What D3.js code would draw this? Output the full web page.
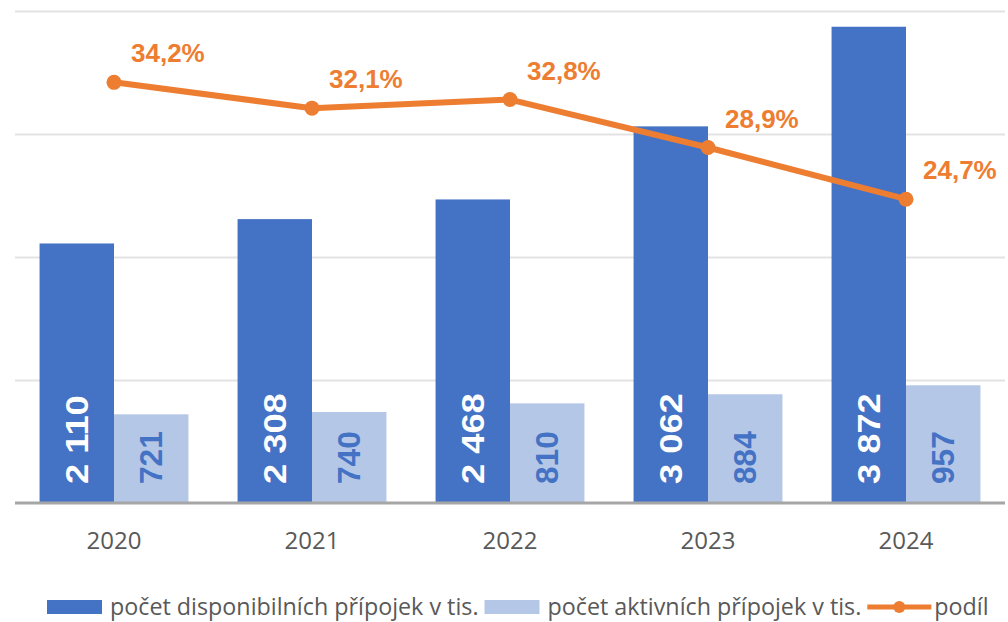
<!DOCTYPE html>
<html lang="cs">
  <head>
    <script src="https://d3js.org/d3.v7.min.js"></script>
    <meta charset="UTF-8" />
    <title>Přípojky</title>
    <style>
      body { margin: 0; background: #fff; }
    </style>
  </head>
  <body>
    <svg width="1008" height="622"></svg>
    <script>
      // data
      var years = ["2020", "2021", "2022", "2023", "2024"];
      var disponibilni = [2110, 2308, 2468, 3062, 3872];
      var aktivni = [721, 740, 810, 884, 957];
      var podil = [0.342, 0.321, 0.328, 0.289, 0.247];
      var seriesNames = [
        "počet disponibilních přípojek v tis.",
        "počet aktivních přípojek v tis.",
        "podíl",
      ];
      var yTicks = [1000, 2000, 3000, 4000];

      var blue = "#4472C4";
      var lightBlue = "#B4C7E7";
      var orange = "#ED7D31";
      var gray = "#595959";

      var svg = d3.select("svg");
      var plotLeft = 15, plotRight = 1005, plotTop = 11, plotBottom = 503;

      var x = d3.scaleBand().domain(years).range([plotLeft, plotRight]);
      var xIn = d3
        .scaleBand()
        .domain(["d", "a"])
        .range([0, x.bandwidth()])
        .paddingOuter(0.33);
      var y = d3.scaleLinear().domain([0, 4000]).range([plotBottom, plotTop]);
      var y2 = d3.scaleLinear().domain([0, 0.4]).range([plotBottom, plotTop]);

      // gridlines
      var grid = svg
        .append("g")
        .attr("transform", "translate(" + plotLeft + ",0)")
        .call(
          d3
            .axisLeft(y)
            .tickValues(yTicks)
            .tickSize(-(plotRight - plotLeft))
            .tickFormat("")
        );
      grid.select(".domain").remove();
      grid.selectAll("line").attr("stroke", "#E3E3E3").attr("stroke-width", 2);

      var rows = years.map(function (yr, i) {
        return { year: yr, d: disponibilni[i], a: aktivni[i], p: podil[i] };
      });

      // bars
      var g = svg.append("g");
      g.selectAll(".bar-d")
        .data(rows)
        .enter()
        .append("rect")
        .attr("x", function (r) { return x(r.year) + xIn("d"); })
        .attr("y", function (r) { return y(r.d); })
        .attr("width", xIn.bandwidth())
        .attr("height", function (r) { return y(0) - y(r.d); })
        .attr("fill", blue);
      g.selectAll(".bar-a")
        .data(rows)
        .enter()
        .append("rect")
        .attr("x", function (r) { return x(r.year) + xIn("a"); })
        .attr("y", function (r) { return y(r.a); })
        .attr("width", xIn.bandwidth())
        .attr("height", function (r) { return y(0) - y(r.a); })
        .attr("fill", lightBlue);

      var fmt = function (v) {
        return d3.format(",")(v).replace(",", "\u00a0");
      };

      // bar labels, rotated, at the base of the bars
      function barLabel(key, color, stretch) {
        g.selectAll(".lab-" + key)
          .data(rows)
          .enter()
          .append("text")
          .attr("transform", function (r) {
            var cx = x(r.year) + xIn(key) + xIn.bandwidth() / 2;
            return "translate(" + cx + "," + (y(0) - 19) + ") rotate(-90) scale(" + stretch + ",1)";
          })
          .attr("dy", "0.36em")
          .attr("font-family", "Liberation Sans, Arial, sans-serif")
          .attr("font-weight", "bold")
          .attr("font-size", 31)
          .attr("fill", color)
          .text(function (r) { return fmt(r[key]); });
      }
      barLabel("d", "#fff", 1.17);
      barLabel("a", blue, 1.02);

      // baseline
      svg
        .append("line")
        .attr("x1", plotLeft)
        .attr("x2", plotRight)
        .attr("y1", y(0))
        .attr("y2", y(0))
        .attr("stroke", "#A6A6A6")
        .attr("stroke-width", 3);

      // x axis labels
      var xa = svg
        .append("g")
        .attr("transform", "translate(0," + y(0) + ")")
        .call(d3.axisBottom(x).tickSize(0).tickPadding(29));
      xa.select(".domain").remove();
      xa.selectAll("text")
        .attr("font-family", "Open Sans, sans-serif")
        .attr("font-size", 24)
        .attr("fill", gray);

      // share line
      var cx = function (r) { return x(r.year) + x.bandwidth() / 2; };
      var line = d3
        .line()
        .x(cx)
        .y(function (r) { return y2(r.p); });
      svg
        .append("path")
        .datum(rows)
        .attr("d", line)
        .attr("fill", "none")
        .attr("stroke", orange)
        .attr("stroke-width", 6)
        .attr("stroke-linejoin", "round");
      svg
        .selectAll(".dot")
        .data(rows)
        .enter()
        .append("circle")
        .attr("cx", cx)
        .attr("cy", function (r) { return y2(r.p); })
        .attr("r", 7.5)
        .attr("fill", orange);
      svg
        .selectAll(".plab")
        .data(rows)
        .enter()
        .append("text")
        .attr("x", function (r) { return cx(r) + 17; })
        .attr("y", function (r) { return y2(r.p) - 20; })
        .attr("font-family", "Liberation Sans, Arial, sans-serif")
        .attr("font-weight", "bold")
        .attr("font-size", 26)
        .attr("fill", orange)
        .text(function (r) { return d3.format(".1f")(r.p * 100).replace(".", ",") + "%"; });

      // legend
      var leg = svg.append("g").attr("transform", "translate(0,607)");
      var lx = 47;
      seriesNames.forEach(function (name, i) {
        if (i < 2) {
          leg.append("rect")
            .attr("x", lx)
            .attr("y", -7)
            .attr("width", 55)
            .attr("height", 14)
            .attr("fill", i == 0 ? blue : lightBlue);
          lx += 63;
        } else {
          leg.append("line")
            .attr("x1", lx)
            .attr("x2", lx + 64)
            .attr("stroke", orange)
            .attr("stroke-width", 5);
          leg.append("circle").attr("cx", lx + 32).attr("r", 6).attr("fill", orange);
          lx += 67;
        }
        var t = leg
          .append("text")
          .attr("x", lx)
          .attr("dy", "0.36em")
          .attr("font-family", "Open Sans, sans-serif")
          .attr("font-size", 23.3)
          .attr("fill", gray)
          .text(name);
        lx += t.node().getComputedTextLength() + 6;
      });
    </script>
  </body>
</html>
